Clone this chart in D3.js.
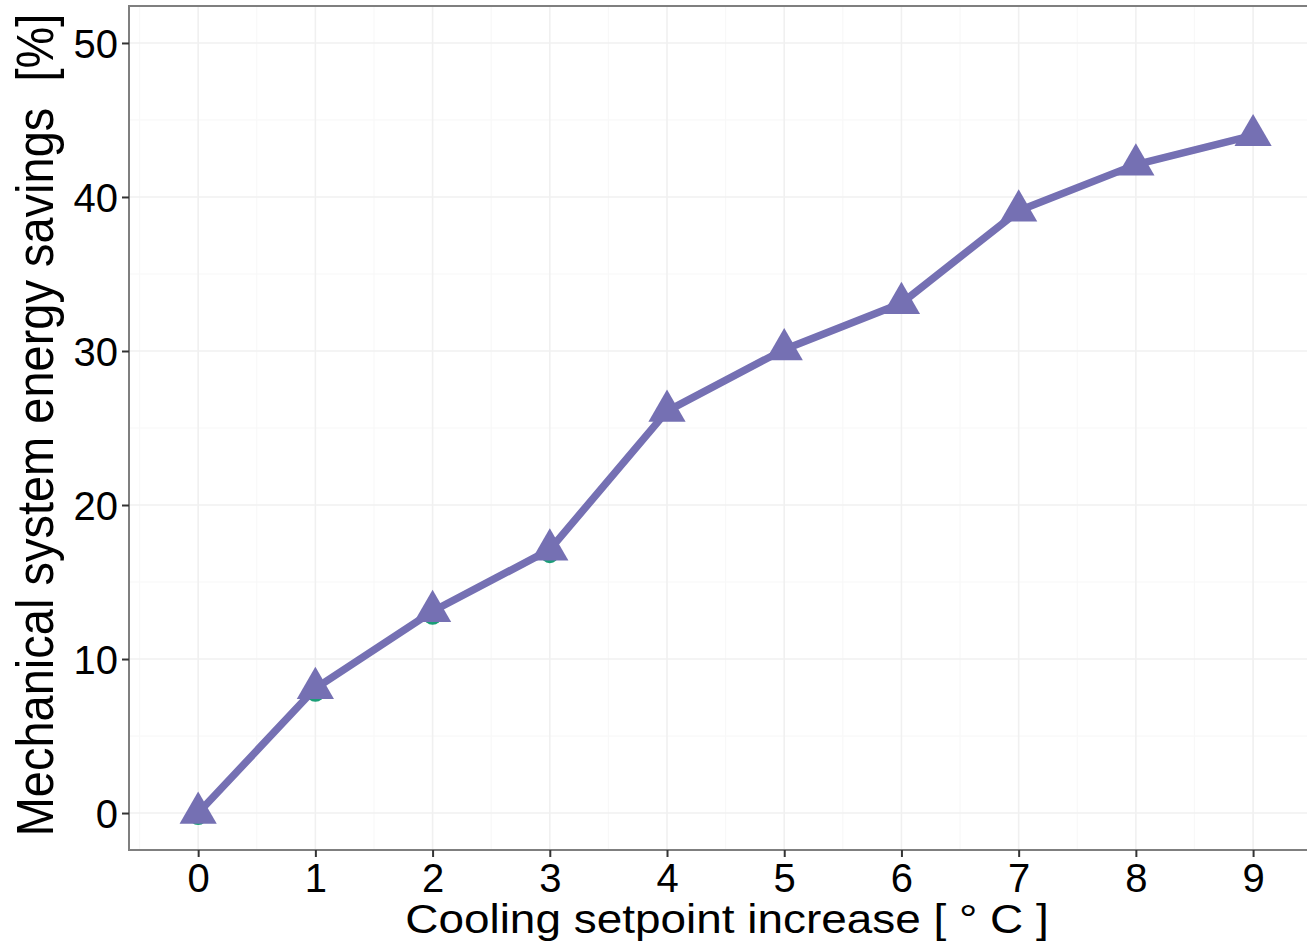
<!DOCTYPE html>
<html>
<head>
<meta charset="utf-8">
<script src="https://cdn.jsdelivr.net/npm/d3@7"></script>
<style>
  html, body { margin: 0; padding: 0; background: #fff; }
  svg { display: block; }
  text { font-family: "Liberation Sans", Arial, sans-serif; fill: #000; }
</style>
</head>
<body>
<svg id="chart" width="1307" height="947"></svg>
<script>
// Cooling setpoint increase (°C) and resulting mechanical energy savings (%)
const setpointIncrease = [0, 1, 2, 3, 4, 5, 6, 7, 8, 9];
const energySavings = [0, 8.1, 13.1, 17.1, 26.1, 30.1, 33.1, 39.1, 42.1, 44.0];
// Companion series plotted underneath (only the first points peek out)
const baseIncrease = [0, 1, 2, 3];
const baseSavings = [0, 8, 13, 17];
const xTicks = [0, 1, 2, 3, 4, 5, 6, 7, 8, 9];
const yTicks = [0, 10, 20, 30, 40, 50];
const xMinor = [-0.5, 0.5, 1.5, 2.5, 3.5, 4.5, 5.5, 6.5, 7.5, 8.5];
const yMinor = [5, 15, 25, 35, 45];

const svg = d3.select("#chart");
const panel = { left: 129, top: 6, right: 1307, bottom: 850 };

const x = d3.scaleLinear().domain([-0.59, 9.46]).range([panel.left, panel.right]);
const y = d3.scaleLinear().domain([-2.4, 52.4]).range([panel.bottom, panel.top]);

// panel background
svg.append("rect")
  .attr("x", panel.left).attr("y", panel.top)
  .attr("width", panel.right - panel.left).attr("height", panel.bottom - panel.top)
  .attr("fill", "#fff");

// grid lines
const grid = svg.append("g");
grid.selectAll(".xminor").data(xMinor).join("line")
  .attr("x1", d => x(d)).attr("x2", d => x(d))
  .attr("y1", panel.top).attr("y2", panel.bottom)
  .attr("stroke", "#f8f8f8").attr("stroke-width", 1.2);
grid.selectAll(".yminor").data(yMinor).join("line")
  .attr("y1", d => y(d)).attr("y2", d => y(d))
  .attr("x1", panel.left).attr("x2", panel.right)
  .attr("stroke", "#f8f8f8").attr("stroke-width", 1.2);
grid.selectAll(".xmajor").data(xTicks).join("line")
  .attr("x1", d => x(d)).attr("x2", d => x(d))
  .attr("y1", panel.top).attr("y2", panel.bottom)
  .attr("stroke", "#f0f0f0").attr("stroke-width", 1.6);
grid.selectAll(".ymajor").data(yTicks).join("line")
  .attr("y1", d => y(d)).attr("y2", d => y(d))
  .attr("x1", panel.left).attr("x2", panel.right)
  .attr("stroke", "#f0f0f0").attr("stroke-width", 1.6);

// underlying series markers
svg.append("g").selectAll("circle").data(baseIncrease).join("circle")
  .attr("cx", (d) => x(d))
  .attr("cy", (d, i) => y(baseSavings[i]) + 3)
  .attr("r", 9)
  .attr("fill", "#1b9e77");

// savings line
const pts = setpointIncrease.map((d, i) => [d, energySavings[i]]);
svg.append("path")
  .datum(pts)
  .attr("d", d3.line().x(d => x(d[0])).y(d => y(d[1])))
  .attr("fill", "none")
  .attr("stroke", "#7570b3")
  .attr("stroke-width", 7.5)
  .attr("stroke-linejoin", "round");

// triangle markers
const tri = d3.symbol().type(d3.symbolTriangle).size(600);
svg.append("g").selectAll("path").data(pts).join("path")
  .attr("transform", d => `translate(${x(d[0])},${y(d[1])})`)
  .attr("d", tri)
  .attr("fill", "#7570b3");

// panel border
svg.append("rect")
  .attr("x", panel.left).attr("y", panel.top)
  .attr("width", panel.right - panel.left + 2).attr("height", panel.bottom - panel.top)
  .attr("fill", "none").attr("stroke", "#7f7f7f").attr("stroke-width", 2);

// axes
const xAxis = svg.append("g")
  .attr("transform", `translate(0,${panel.bottom})`)
  .call(d3.axisBottom(x).tickValues(xTicks).tickSize(7).tickPadding(4).tickFormat(d3.format("d")));
const yAxis = svg.append("g")
  .attr("transform", `translate(${panel.left},0)`)
  .call(d3.axisLeft(y).tickValues(yTicks).tickSize(7).tickPadding(4).tickFormat(d3.format("d")));
[xAxis, yAxis].forEach(a => {
  a.select(".domain").remove();
  a.selectAll(".tick line").attr("stroke", "#333").attr("stroke-width", 2);
  a.selectAll(".tick text").attr("font-size", 40).attr("fill", "#000")
    .style("font-family", "'Liberation Sans', Arial, sans-serif");
});
xAxis.selectAll(".tick text").attr("dy", null).attr("y", 42);
yAxis.selectAll(".tick text").attr("dy", "0.36em");

// axis titles
svg.append("text")
  .attr("transform", "translate(727,933) scale(1.12,1)")
  .attr("text-anchor", "middle")
  .attr("font-size", 41)
  .text("Cooling setpoint increase [ \u00B0 C ]");

svg.append("text")
  .attr("transform", "translate(53,425) scale(1.1,1) rotate(-90)")
  .attr("text-anchor", "middle")
  .attr("font-size", 47)
  .attr("xml:space", "preserve")
  .style("white-space", "pre")
  .text("Mechanical system energy savings  [%]");
</script>
</body>
</html>
